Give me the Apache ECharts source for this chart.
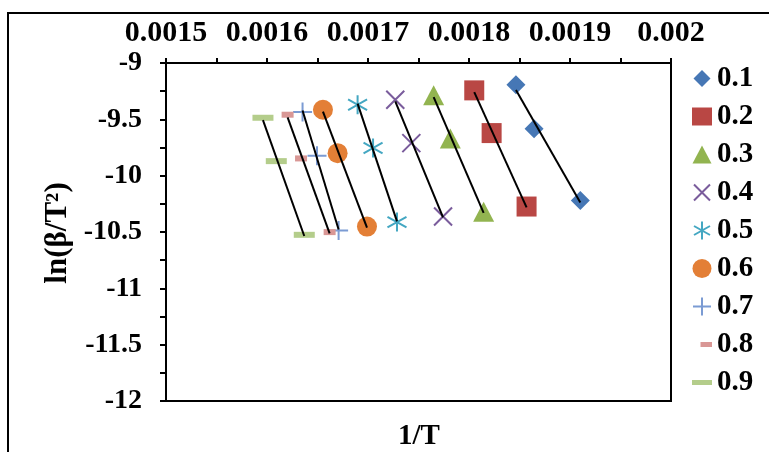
<!DOCTYPE html>
<html>
<head>
<meta charset="utf-8">
<script src="https://cdn.jsdelivr.net/npm/echarts@6/dist/echarts.min.js"></script>
<style>
  html, body { margin: 0; padding: 0; background: #fff; }
  #chart { width: 769px; height: 452px; }
</style>
</head>
<body>
<div id="chart"></div>
<script>
// Conversion levels (legend entries)
const levels = ['0.1', '0.2', '0.3', '0.4', '0.5', '0.6', '0.7', '0.8', '0.9'];

// 1/T values for each conversion level
const x01 = [0.0018465, 0.0018644, 0.0019102];
const x02 = [0.0018052, 0.0018224, 0.0018570];
const x03 = [0.0017650, 0.0017815, 0.0018145];
const x04 = [0.0017270, 0.0017429, 0.0017743];
const x05 = [0.0016897, 0.0017050, 0.0017287];
const x06 = [0.0016554, 0.0016699, 0.0016990];
const x07 = [0.0016352, 0.0016495, 0.0016709];
const x08 = [0.0016204, 0.0016337, 0.0016620];
const x09 = [0.0015960, 0.0016092, 0.0016369];

// ln(beta/T^2) values for each conversion level
const y01 = [-9.193, -9.584, -10.221];
const y02 = [-9.243, -9.622, -10.274];
const y03 = [-9.286, -9.671, -10.321];
const y04 = [-9.326, -9.711, -10.363];
const y05 = [-9.370, -9.755, -10.412];
const y06 = [-9.415, -9.800, -10.452];
const y07 = [-9.435, -9.823, -10.487];
const y08 = [-9.459, -9.847, -10.501];
const y09 = [-9.486, -9.871, -10.525];

// Tick labels
const xTickLabels = ['0.0015', '0.0016', '0.0017', '0.0018', '0.0019', '0.002'];
const yTickLabels = ['-12', '-11.5', '-11', '-10.5', '-10', '-9.5', '-9'];

const xs = [x01, x02, x03, x04, x05, x06, x07, x08, x09];
const ys = [y01, y02, y03, y04, y05, y06, y07, y08, y09];

const FONT = "'Liberation Serif', 'Times New Roman', serif";

// marker look per level
const colors = ['#4677b5', '#b94744', '#92b450', '#7a5c9c', '#44a7c2', '#e37f36', '#7b9bd3', '#d99795', '#b4cd8b'];
const stroked = [false, false, false, true, true, false, true, false, false];
const plotSymbols = [
  'diamond',
  'rect',
  'triangle',
  'path://M0,0L10,10M10,0L0,10',
  'path://M5,0L5,10M0,2.2L10,7.8M0,7.8L10,2.2',
  'circle',
  'path://M5,0L5,10M0,5L10,5',
  'rect',
  'rect'
];
const plotSizes = [19, 20, [21, 20], 18, 19, 20, 19, [12, 6], [21, 6]];
// legend icons drawn in a common 20x20 frame
const legendIcons = [
  'path://M0,0M20,20M10,1.5L18.5,10L10,18.5L1.5,10Z',
  'path://M0,0M20,20M0,1H20V19H0Z',
  'path://M0,0M20,20M10,1L19.5,19H0.5Z',
  'path://M0,0M20,20M2,2L18,18M18,2L2,18',
  'path://M0,0M20,20M10,1V19M2,5.5L18,14.5M2,14.5L18,5.5',
  'path://M0,0M20,20M10,0.5A9.5,9.5,0,1,1,9.99,0.5Z',
  'path://M0,0M20,20M10,1V19M1,10H19',
  'path://M0,0M20,20M8.5,7.5H20V12.5H8.5Z',
  'path://M0,0M20,20M0,7.5H20V12.5H0Z'
];

// least-squares trend line across each level's x range
function trend(xv, yv) {
  const n = xv.length;
  let sx = 0, sy = 0, sxx = 0, sxy = 0;
  for (let i = 0; i < n; i++) { sx += xv[i]; sy += yv[i]; sxx += xv[i] * xv[i]; sxy += xv[i] * yv[i]; }
  const b = (n * sxy - sx * sy) / (n * sxx - sx * sx);
  const a = (sy - b * sx) / n;
  const lo = Math.min(...xv), hi = Math.max(...xv);
  return [[lo, a + b * lo], [hi, a + b * hi]];
}

const series = [];
levels.forEach((name, i) => {
  const style = stroked[i]
    ? { color: 'rgba(0,0,0,0)', borderColor: colors[i], borderWidth: 2, opacity: 1 }
    : { color: colors[i], opacity: 1 };
  series.push({
    name: name,
    type: 'scatter',
    symbol: plotSymbols[i],
    symbolSize: plotSizes[i],
    itemStyle: style,
    z: 2,
    data: xs[i].map((x, k) => [x, ys[i][k]])
  });
});
levels.forEach((name, i) => {
  series.push({
    name: 'trend ' + name,
    type: 'line',
    symbol: 'none',
    silent: true,
    z: 3,
    lineStyle: { color: '#000', width: 2 },
    data: trend(xs[i], ys[i])
  });
});

const chart = echarts.init(document.getElementById('chart'), null, { renderer: 'canvas' });
chart.setOption({
  animation: false,
  backgroundColor: '#fff',
  grid: {
    left: 166, top: 63, width: 505, height: 338,
    show: true, borderColor: '#000', borderWidth: 2, backgroundColor: 'transparent'
  },
  xAxis: {
    type: 'value',
    position: 'top',
    min: 0.0015, max: 0.002, interval: 0.0001,
    axisLine: { onZero: false, lineStyle: { color: '#000', width: 2 } },
    axisTick: { show: true, inside: false, length: 5, lineStyle: { color: '#000', width: 2 } },
    minorTick: { show: true, splitNumber: 2, length: 5, lineStyle: { color: '#000', width: 2 } },
    splitLine: { show: false },
    axisLabel: {
      margin: 15,
      color: '#000',
      fontFamily: FONT, fontWeight: 'bold', fontSize: 30,
      formatter: v => xTickLabels[Math.round((v - 0.0015) / 0.0001)]
    }
  },
  yAxis: {
    type: 'value',
    min: -12, max: -9, interval: 0.5,
    axisLine: { show: true, onZero: false, lineStyle: { color: '#000', width: 2 } },
    axisTick: { show: true, inside: false, length: 6, lineStyle: { color: '#000', width: 2 } },
    minorTick: { show: true, splitNumber: 2, length: 6, lineStyle: { color: '#000', width: 2 } },
    splitLine: { show: false },
    axisLabel: {
      margin: 24,
      color: '#000',
      fontFamily: FONT, fontWeight: 'bold', fontSize: 28,
      formatter: v => yTickLabels[Math.round((v + 12) / 0.5)]
    }
  },
  legend: {
    orient: 'vertical',
    left: 686, top: 59,
    itemWidth: 20, itemHeight: 20, itemGap: 9,
    data: levels.map((name, i) => ({ name: name, icon: legendIcons[i] })),
    textStyle: { color: '#000', fontFamily: FONT, fontWeight: 'bold', fontSize: 29, lineHeight: 28 }
  },
  graphic: [
    {
      type: 'rect',
      shape: { x: 8, y: 13, width: 900, height: 600 },
      style: { fill: 'none', stroke: '#000', lineWidth: 2 },
      silent: true
    },
    {
      type: 'text',
      x: 58, y: 233, rotation: Math.PI / 2,
      style: {
        text: 'ln(β/T²)', fill: '#000', font: "bold 31px 'Liberation Serif', serif",
        textAlign: 'center', textVerticalAlign: 'middle'
      }
    },
    {
      type: 'text',
      x: 419, y: 437,
      style: {
        text: '1/T', fill: '#000', font: "bold 29px 'Liberation Serif', serif",
        textAlign: 'center', textVerticalAlign: 'middle'
      }
    }
  ],
  series: series
});
</script>
</body>
</html>
